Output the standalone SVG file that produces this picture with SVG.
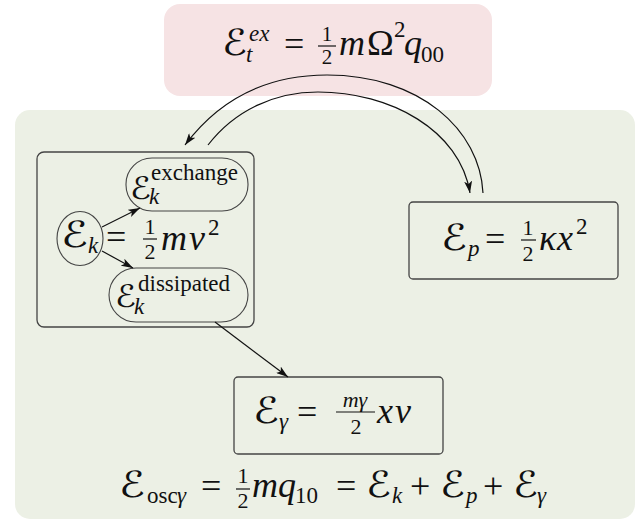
<svg xmlns="http://www.w3.org/2000/svg" width="640" height="520" viewBox="0 0 640 520">
<defs>
<style>
.cal{font-family:"DejaVu Sans",sans-serif;font-size:36px;fill:#111}
.cs{font-size:31px}
.mi{font-family:"Liberation Serif","Times New Roman","DejaVu Serif",serif;font-style:italic;font-size:36px;fill:#111}
.rm{font-family:"Liberation Serif","Times New Roman","DejaVu Serif",serif;font-size:36px;fill:#111}
.s{font-size:23px}
.f{font-size:22px}
.f2{font-size:21px}
.box{fill:none;stroke:#444;stroke-width:1.3}
.pill{fill:none;stroke:#444;stroke-width:1.1}
.bar{stroke:#111;stroke-width:1.2}
.con{fill:none;stroke:#111;stroke-width:1.2}
</style>
<marker id="ah" viewBox="0 0 12 8" refX="12" refY="4" markerWidth="12" markerHeight="8" orient="auto" markerUnits="userSpaceOnUse">
<path d="M0,0 L12,4 L0,8 L3,4 z" fill="#111"/>
</marker>
</defs>
<rect x="15" y="110" width="620" height="409" rx="15" fill="#ecf0e5"/>
<g id="external">
<rect x="164" y="4" width="328" height="92" rx="16" fill="#f6e3e4"/>
<text class="cal" x="222" y="55" textLength="25" lengthAdjust="spacingAndGlyphs">ℰ</text>
<text class="mi s" x="249" y="41">ex</text>
<text class="mi s" x="246" y="62">t</text>
<text class="rm" x="284" y="56">=</text>
<text class="rm f2" x="327" y="40.5" text-anchor="middle">1</text>
<line class="bar" x1="318" y1="46" x2="336" y2="46"/>
<text class="rm f2" x="327" y="64" text-anchor="middle">2</text>
<text class="mi" x="339" y="55">m</text>
<text class="rm" x="367" y="55">Ω</text>
<text class="rm s" x="394" y="37">2</text>
<text class="mi" x="404" y="55">q</text>
<text class="rm s" x="421" y="62">00</text>
</g>
<g id="kinetic">
<rect class="box" x="37" y="152" width="217" height="175" rx="7"/>
<ellipse class="pill" cx="80" cy="238.5" rx="23" ry="27"/>
<text class="cal" x="61" y="247" textLength="27" lengthAdjust="spacingAndGlyphs">ℰ</text>
<text class="mi s" x="88" y="253">k</text>
<text class="rm" x="106" y="249">=</text>
<text class="rm f" x="150" y="234" text-anchor="middle">1</text>
<line class="bar" x1="143" y1="239" x2="157" y2="239"/>
<text class="rm f" x="150" y="259" text-anchor="middle">2</text>
<text class="mi" x="161" y="250">m</text>
<text class="mi" x="189" y="250">v</text>
<text class="rm s" x="208" y="235">2</text>
</g>
<g id="exchange">
<rect class="pill" x="126" y="158" width="122" height="53" rx="26"/>
<text class="cal cs" x="130" y="199" textLength="21" lengthAdjust="spacingAndGlyphs">ℰ</text>
<text class="rm s" x="151" y="180">exchange</text>
<text class="mi s" x="149" y="204">k</text>
</g>
<g id="dissipated">
<rect class="pill" x="109" y="268" width="139" height="54" rx="27"/>
<text class="cal cs" x="115" y="307" textLength="21" lengthAdjust="spacingAndGlyphs">ℰ</text>
<text class="rm s" x="138" y="291">dissipated</text>
<text class="mi s" x="134" y="314">k</text>
</g>
<g id="potential">
<rect class="box" x="409" y="202" width="209" height="77" rx="4"/>
<text class="cal" x="441" y="250" textLength="26" lengthAdjust="spacingAndGlyphs">ℰ</text>
<text class="mi s" x="468" y="256">p</text>
<text class="rm" x="485" y="251">=</text>
<text class="rm f" x="528" y="235" text-anchor="middle">1</text>
<line class="bar" x1="521" y1="240" x2="536" y2="240"/>
<text class="rm f" x="528" y="261" text-anchor="middle">2</text>
<text class="mi" x="539" y="250">κ</text>
<text class="mi" x="557" y="250">x</text>
<text class="rm s" x="576" y="234">2</text>
</g>
<g id="damping">
<rect class="box" x="234" y="377" width="209" height="77" rx="4"/>
<text class="cal" x="253" y="423" textLength="26" lengthAdjust="spacingAndGlyphs">ℰ</text>
<text class="mi s" x="279" y="429">γ</text>
<text class="rm" x="297" y="424">=</text>
<text class="mi f" x="355" y="407" text-anchor="middle">mγ</text>
<line class="bar" x1="336" y1="412" x2="375" y2="412"/>
<text class="rm f" x="356" y="434" text-anchor="middle">2</text>
<text class="mi" x="377" y="423">x</text>
<text class="mi" x="395" y="423">v</text>
</g>
<g id="total">
<text class="cal" x="119" y="497" textLength="26" lengthAdjust="spacingAndGlyphs">ℰ</text>
<text class="rm s" x="147" y="503">osc</text>
<text class="mi s" x="177" y="503">γ</text>
<text class="rm" x="201" y="498">=</text>
<text class="rm f" x="243" y="483" text-anchor="middle">1</text>
<line class="bar" x1="236" y1="489" x2="250" y2="489"/>
<text class="rm f" x="243" y="508" text-anchor="middle">2</text>
<text class="mi" x="252" y="497">m</text>
<text class="mi" x="278" y="497">q</text>
<text class="rm s" x="295" y="503">10</text>
<text class="rm" x="336" y="498">=</text>
<text class="cal" x="366" y="497" textLength="25" lengthAdjust="spacingAndGlyphs">ℰ</text>
<text class="mi s" x="392" y="503">k</text>
<text class="rm" x="410" y="498">+</text>
<text class="cal" x="440" y="497" textLength="25" lengthAdjust="spacingAndGlyphs">ℰ</text>
<text class="mi s" x="466" y="503">p</text>
<text class="rm" x="483" y="498">+</text>
<text class="cal" x="513" y="497" textLength="25" lengthAdjust="spacingAndGlyphs">ℰ</text>
<text class="mi s" x="537" y="503">γ</text>
</g>
<g id="connectors">
<path class="con" d="M483 193 C480 130 420 75 327 75 C260 75 215 105 185 145" marker-end="url(#ah)"/>
<path class="con" d="M208 145 C235 110 275 92 318 92 C390 92 460 130 470 193" marker-end="url(#ah)"/>
<line class="con" x1="102" y1="227" x2="140" y2="208" marker-end="url(#ah)"/>
<line class="con" x1="102" y1="251" x2="133" y2="268" marker-end="url(#ah)"/>
<line class="con" x1="215" y1="322" x2="288" y2="377" marker-end="url(#ah)"/>
</g>
</svg>
